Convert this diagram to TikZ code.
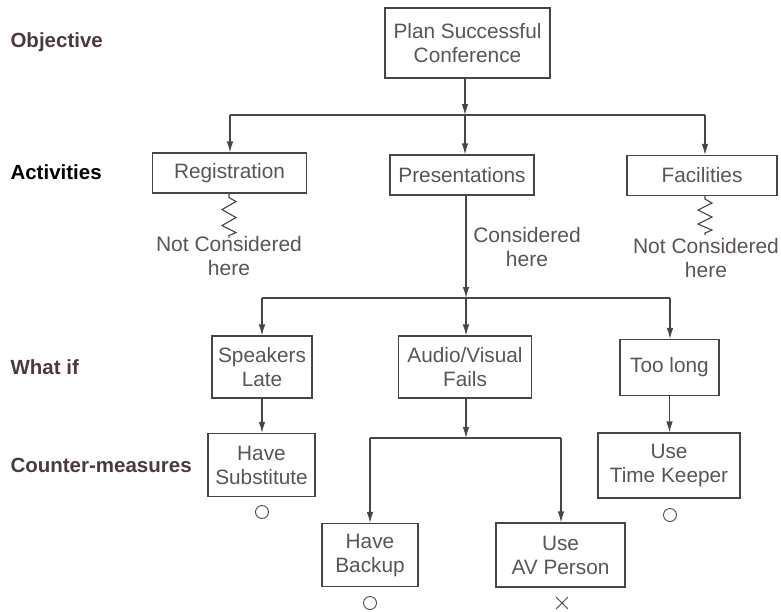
\documentclass[tikz,border=0pt]{standalone}
\usepackage{fontspec}
\setmainfont{Liberation Sans}
\usetikzlibrary{arrows.meta,shapes.misc}
\definecolor{ink}{HTML}{4A4446}
\definecolor{txt}{HTML}{5A5456}
\definecolor{lbl}{HTML}{4A3A3E}
\begin{document}
\begin{tikzpicture}[x=1pt,y=-1pt,
  box/.style={draw=ink, line width=1.1pt, text=txt, align=center, inner sep=0pt,
    font=\fontsize{20.8}{24}\selectfont},
  lab/.style={anchor=west, text=lbl, font=\fontsize{20.5}{22}\selectfont\bfseries},
  note/.style={text=txt, align=center, font=\fontsize{21}{23.5}\selectfont},
  con/.style={draw=ink, line width=1.1pt},
  arr/.style={con, -{Latex[length=11pt,width=6.5pt]}},
  symb/.style={draw=ink, line width=0.9pt, minimum size=13pt, inner sep=0pt}]
\useasboundingbox (0,0) rectangle (781,611);
% left labels
\node[lab] (lobj) at (7,42) {Objective};
\node[lab, text=black] (lact) at (7,172) {Activities};
\node[lab] (lwhat) at (7,367) {What if};
\node[lab] (lcm) at (7,465) {Counter-measures};
% boxes
\node[box, minimum width=165, minimum height=70] (plan) at (467.5,43) {Plan Successful\\Conference};
\node[box, minimum width=154, minimum height=40] (reg) at (229.5,173) {Registration};
\node[box, minimum width=144, minimum height=40] (pres) at (462,175) {Presentations};
\node[box, minimum width=150, minimum height=40] (fac) at (702,175.5) {Facilities};
\node[box, minimum width=100, minimum height=62] (sp) at (262,367) {Speakers\\Late};
\node[box, minimum width=133, minimum height=62] (av) at (465,367) {Audio/Visual\\Fails};
\node[box, minimum width=99, minimum height=56] (tl) at (669.5,367.5) {Too long};
\node[box, minimum width=107, minimum height=63] (sub) at (261.5,465) {Have\\Substitute};
\node[box, minimum width=142, minimum height=65] (tk) at (669,465.5) {Use\\Time Keeper};
\node[box, minimum width=96, minimum height=63] (bk) at (370,555) {Have\\Backup};
\node[box, minimum width=129, minimum height=64] (avp) at (560.5,555) {Use\\AV Person};
% notes
\node[note] (nreg) at (229,256) {Not Considered\\here};
\node[note] (nfac) at (706,258) {Not Considered\\here};
\node[note] (npres) at (527,247) {Considered\\here};
% junctions
\coordinate (j1) at (465,115);
\coordinate (j1l) at (230,115);
\coordinate (j1r) at (705,115);
\coordinate (j2) at (466,298);
\coordinate (j2l) at (262,298);
\coordinate (j2r) at (670,298);
\coordinate (j3) at (466,438);
\coordinate (j3l) at (370,438);
\coordinate (j3r) at (561,438);
% level 1
\draw[arr] (plan.south -| j1) -- (j1);
\draw[con] (j1l) -- (j1r);
\draw[arr] (j1l) -- (reg.north -| j1l);
\draw[arr] (j1) -- (pres.north -| j1);
\draw[arr] (j1r) -- (fac.north -| j1r);
% zigzags
\draw[con, line width=1.1pt] (reg.south -| 229,0) -- ++(0,4) -- ++(7,4) -- ++(-14,8) -- ++(14,8) -- ++(-14,8) -- ++(14,7) -- ++(-7,3) -- ++(0,2);
\draw[con, line width=1.1pt] (fac.south -| 705,0) -- ++(0,3) -- ++(7,4) -- ++(-14,7) -- ++(14,7) -- ++(-14,7) -- ++(14,6) -- ++(-7,3) -- ++(0,2);
% level 2
\draw[arr] (pres.south -| j2) -- (j2);
\draw[con] (j2l) -- (j2r);
\draw[arr] (j2l) -- (sp.north -| j2l);
\draw[arr] (j2) -- (av.north -| j2);
\draw[arr] (j2r) -- (tl.north -| j2r);
% level 3
\draw[arr] (sp.south) -- (sub.north -| sp.south);
\draw[arr] (tl.south) -- (tk.north -| tl.south);
\draw[arr] (av.south -| j3) -- (j3);
\draw[con] (j3l) -- (j3r);
\draw[arr] (j3l) -- (bk.north -| j3l);
\draw[arr] (j3r) -- (avp.north -| j3r);
% symbols
\node[symb, circle] (m1) at (262,512) {};
\node[symb, circle] (m2) at (670,515) {};
\node[symb, circle] (m3) at (370,603) {};
\node[symb, cross out, minimum size=11pt] (m4) at (562,603) {};
\end{tikzpicture}
\end{document}
